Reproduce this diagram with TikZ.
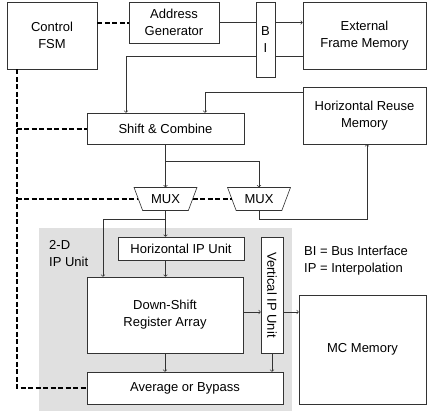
\documentclass[tikz,border=0pt]{standalone}
\usepackage{fontspec}
\setmainfont{Liberation Sans}
\usetikzlibrary{shapes.geometric}

\begin{document}
\begin{tikzpicture}[x = 1pt, y = -1pt,
	font = \fontsize{13}{17}\selectfont,
	blk/.style = {draw = black!80, line width = .6pt, fill = white, align = center, inner sep = 0pt},
	mux/.style = {draw = black!80, line width = .6pt, fill = white, trapezium, shape border rotate = 180,
		trapezium stretches = true, trapezium angle = 59, minimum width = 63pt, minimum height = 23pt, inner sep = 0pt},
	wire/.style = {black!80, line width = .6pt, ->},
	ctrl/.style = {line width = 2pt, dash pattern = on 5pt off 2.5pt}]
	\useasboundingbox (0,0) rectangle (428,413);
	\fill[black!12] (39,228) rectangle (292,411);

	\node[blk, minimum width = 90pt, minimum height = 67pt] (fsm) at (52,35.5) {Control\\FSM};
	\node[blk, minimum width = 90pt, minimum height = 41pt] (addr) at (174,22.5) {Address\\Generator};
	\node[blk, minimum width = 19pt, minimum height = 75pt] (bi) at (265.5,39.5) {B\\I};
	\node[blk, minimum width = 123pt, minimum height = 67pt] (ext) at (364.5,35.5) {External\\Frame Memory};
	\node[blk, minimum width = 157pt, minimum height = 31pt] (shcomb) at (165.5,128.5) {Shift \& Combine};
	\node[blk, minimum width = 123pt, minimum height = 57pt] (hreuse) at (364.5,115.5) {Horizontal Reuse\\Memory};
	\node[mux] (mux1) at (165.5,199) {MUX};
	\node[mux] (mux2) at (259,199) {MUX};
	\node[blk, minimum width = 126pt, minimum height = 23pt] (hip) at (181,248.5) {Horizontal IP Unit};
	\node[blk, minimum width = 156pt, minimum height = 76pt] (dsr) at (165,315) {Down-Shift\\Register Array};
	\node[blk, minimum width = 22pt, minimum height = 116pt] (vip) at (272,295) {};
	\node[rotate = -90] (viptext) at (vip) {Vertical IP Unit};
	\node[blk, minimum width = 196pt, minimum height = 32pt] (avg) at (185,388) {Average or Bypass};
	\node[blk, minimum width = 127pt, minimum height = 109pt] (mc) at (362.5,349.5) {MC Memory};
	\node[align = left, anchor = west, inner sep = 0pt] (ipunit) at (49,254) {2-D\\IP Unit};
	\node[align = left, anchor = west, inner sep = 0pt] (legend) at (304,261) {BI = Bus Interface\\IP = Interpolation};

	% data path
	\draw[wire, -] (addr.east) -- (addr.east -| bi.west);
	\draw[wire] (addr.east -| bi.east) -- (addr.east -| ext.west);
	\draw[wire, -] ([yshift = 13pt]ext.south west) -- ([yshift = 13pt]ext.south west -| bi.east);
	\draw[wire] ([yshift = 13pt]ext.south west -| bi.west) -| ([xshift = -39.5pt]shcomb.north);
	\draw[wire] ([yshift = -6pt]hreuse.north west) -| ([xshift = 39.5pt]shcomb.north);
	\draw[wire] (shcomb.south) -- (mux1.north);
	\draw[wire] ([yshift = -17pt]shcomb.south) -| (mux2.north);
	\draw[wire] (mux2.south) -- ++(0,8) -| ([xshift = 2.5pt]hreuse.south);
	\draw[wire] (mux1.south) -- (mux1.south |- hip.north);
	\draw[wire] ([yshift = -8pt]mux1.south) -| ([xshift = -62pt]dsr.north);
	\draw[wire] (mux1.south |- hip.south) -- (mux1.south |- dsr.north);
	\draw[wire] ([yshift = 3pt]dsr.east) -- ([yshift = 3pt]dsr.east -| vip.west);
	\draw[wire] ([yshift = 3pt]dsr.east -| vip.east) -- ([yshift = 3pt]dsr.east -| mc.west);
	\draw[wire] (dsr.south) -- (dsr.south |- avg.north);
	\draw[wire] (vip.south) -- (vip.south |- avg.north);

	% control
	\coordinate (bus) at ([xshift = 10pt]fsm.south west);
	\draw[ctrl] (fsm.east |- addr.west) -- (addr.west);
	\draw[ctrl] (bus) |- (avg.west);
	\draw[ctrl] (bus |- shcomb.west) -- (shcomb.west);
	\draw[ctrl] (bus |- mux1.west) -- (mux1.west);
	\draw[ctrl] (mux1.east) -- (mux2.west);
\end{tikzpicture}
\end{document}
